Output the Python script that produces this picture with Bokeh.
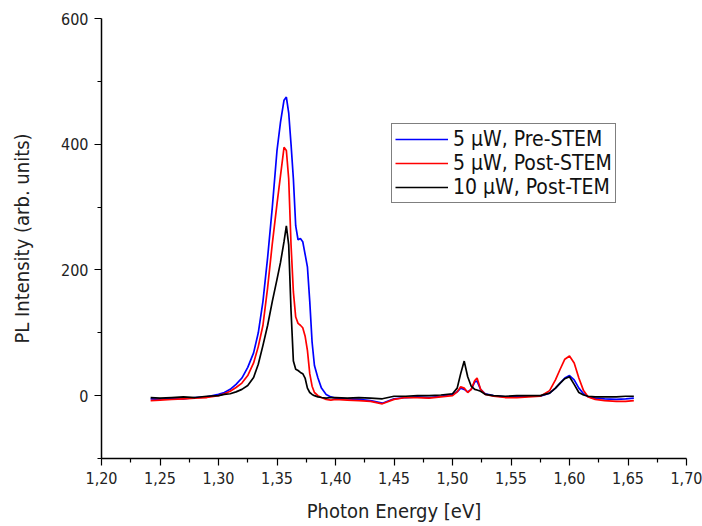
from bokeh.plotting import figure
from bokeh.models import FixedTicker, CustomJSTickFormatter, Legend, LegendItem
from bokeh.embed import file_html
from bokeh.resources import INLINE

energy = [1.242, 1.250, 1.260, 1.270, 1.280, 1.290, 1.300, 1.305, 1.310, 1.315,
          1.320, 1.325, 1.330, 1.334, 1.338, 1.342, 1.346, 1.350, 1.353, 1.356,
          1.358, 1.360, 1.362, 1.364, 1.366, 1.368, 1.370, 1.372, 1.374, 1.376,
          1.378, 1.380, 1.382, 1.385, 1.388, 1.392, 1.396, 1.400, 1.410, 1.420,
          1.430, 1.440, 1.450, 1.460, 1.470, 1.480, 1.490, 1.500, 1.504, 1.507,
          1.510, 1.513, 1.516, 1.519, 1.521, 1.524, 1.528, 1.535, 1.545, 1.555,
          1.565, 1.575, 1.583, 1.588, 1.592, 1.596, 1.600, 1.604, 1.608, 1.612,
          1.616, 1.622, 1.630, 1.640, 1.648, 1.655]

pre_stem_5uW = [-5, -6, -4, -5, -3, -2, 2, 5, 10, 18,
                28, 45, 68, 100, 150, 220, 300, 390, 435, 470,
                475, 450, 400, 345, 270, 248, 250, 245, 225, 205,
                150, 85, 48, 28, 12, 2, -2, -4, -5, -6,
                -8, -12, -5, -3, -2, -3, -1, 2, 6, 12,
                10, 6, 10, 22, 23, 10, 3, 0, -2, -2,
                -1, -1, 4, 12, 20, 28, 32, 25, 12, 3,
                -2, -4, -5, -6, -5, -4]

post_stem_5uW = [-8, -7, -6, -5, -4, -3, 0, 3, 7, 13,
                 20, 32, 52, 78, 112, 172, 242, 305, 350, 395,
                 390, 345, 240, 165, 125, 115, 112, 108, 95, 72,
                 35, 15, 5, 0, -3, -6, -7, -6, -7, -8,
                 -9, -13, -6, -3, -3, -4, -2, 0, 6, 14,
                 12, 5, 10, 24, 28, 10, 2, -1, -3, -3,
                 -2, -1, 8, 25, 42, 58, 63, 52, 28, 8,
                 -2, -6, -8, -9, -9, -8]

post_tem_10uW = [-3, -4, -3, -2, -3, -1, 0, 2, 3, 6,
                 10, 16, 29, 50, 80, 112, 150, 185, 212, 245,
                 270, 240, 135, 55, 42, 40, 37, 35, 28, 12,
                 5, 2, 0, -2, -3, -4, -3, -3, -4, -3,
                 -4, -5, -1, -1, 0, 0, 1, 3, 12, 35,
                 55, 30, 15, 10, 9, 7, 2, 0, -1, 0,
                 0, 0, 4, 12, 20, 27, 30, 18, 5, 1,
                 -1, -2, -2, -2, -1, -1]

x_ticks = [1.20, 1.25, 1.30, 1.35, 1.40, 1.45, 1.50, 1.55, 1.60, 1.65, 1.70]
x_minor = [1.225, 1.275, 1.325, 1.375, 1.425, 1.475, 1.525, 1.575, 1.625, 1.675]
y_ticks = [0, 200, 400, 600]
y_minor = [-100, 100, 300, 500]

FONT = "DejaVu Sans Condensed"

p = figure(width=702, height=526, output_backend="svg", toolbar_location=None,
           x_range=(1.20, 1.70), y_range=(-100, 600),
           min_border_left=101, min_border_right=16, min_border_top=18,
           min_border_bottom=68)
p.outline_line_color = None
p.xgrid.visible = False
p.ygrid.visible = False
p.background_fill_color = "white"
p.border_fill_color = "white"

r_blue = p.line(energy, pre_stem_5uW, line_color="#0000ff", line_width=1.7)
r_red = p.line(energy, post_stem_5uW, line_color="#ff0000", line_width=1.7)
r_black = p.line(energy, post_tem_10uW, line_color="#000000", line_width=1.7)

for ax in (p.xaxis[0], p.yaxis[0]):
    ax.axis_line_width = 1.5
    ax.axis_line_color = "black"
    ax.major_tick_in = 0
    ax.major_tick_out = 7
    ax.minor_tick_in = 0
    ax.minor_tick_out = 4
    ax.major_tick_line_width = 1.2
    ax.minor_tick_line_width = 1.2
    ax.major_label_text_font = FONT
    ax.major_label_text_font_size = "16px"
    ax.major_label_text_color = "#222222"
    ax.axis_label_text_font = FONT
    ax.axis_label_text_font_size = "20px"
    ax.axis_label_text_font_style = "normal"
    ax.axis_label_text_color = "#222222"

p.xaxis.ticker = FixedTicker(ticks=x_ticks, minor_ticks=x_minor)
p.yaxis.ticker = FixedTicker(ticks=y_ticks, minor_ticks=y_minor)
p.xaxis.formatter = CustomJSTickFormatter(code="return tick.toFixed(2).replace('.', ',');")
p.xaxis.axis_label = "Photon Energy [eV]"
p.yaxis.axis_label = "PL Intensity (arb. units)"
p.xaxis.major_label_standoff = 6
p.xaxis.axis_label_standoff = 12
p.yaxis.major_label_standoff = 6
p.yaxis.axis_label_standoff = 24

legend = Legend(items=[
    LegendItem(label="5 μW, Pre-STEM", renderers=[r_blue]),
    LegendItem(label="5 μW, Post-STEM", renderers=[r_red]),
    LegendItem(label="10 μW, Post-TEM", renderers=[r_black]),
], location=(290, 255))
legend.border_line_color = "black"
legend.border_line_width = 1
legend.background_fill_alpha = 1
legend.label_text_font = FONT
legend.label_text_font_size = "21px"
legend.label_text_color = "#111111"
legend.glyph_width = 53
legend.glyph_height = 22
legend.label_height = 22
legend.spacing = 0
legend.padding = 3
legend.margin = 0
legend.label_standoff = 5
p.add_layout(legend, "center")

open("out.html", "w").write(file_html(p, INLINE))
